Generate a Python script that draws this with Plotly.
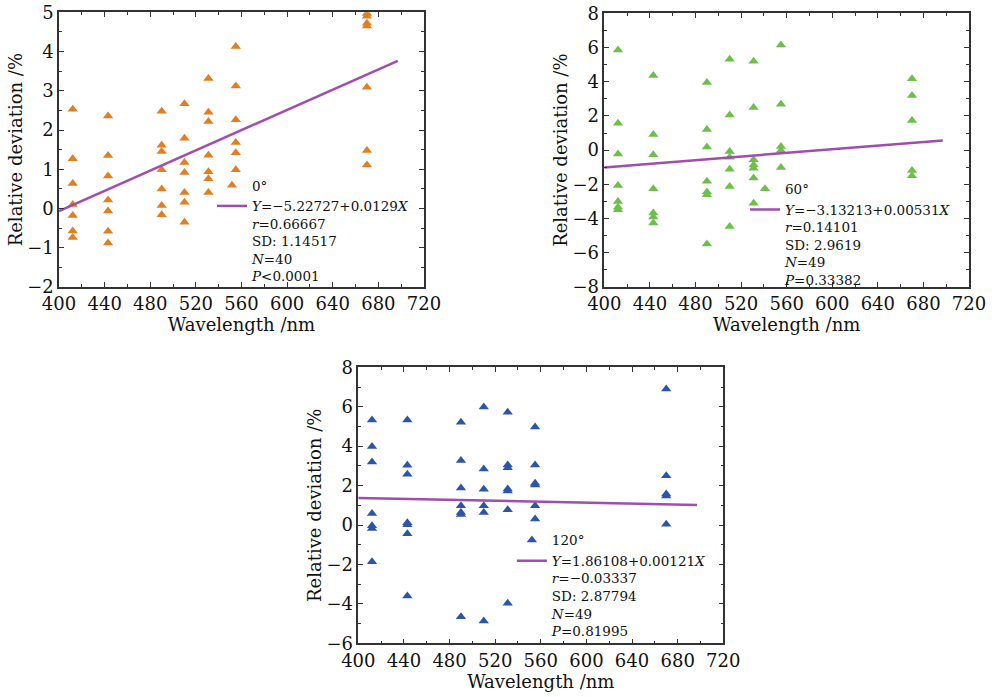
import plotly.graph_objects as go

# Wavelength bands (nm)
WAVELENGTHS = [412, 443, 490, 510, 531, 555, 670]

# Relative deviation (%) per band, one list per band, for each viewing angle
DEV_0 = [
    [2.53, 1.27, 0.64, 0.10, -0.18, -0.57, -0.74],
    [2.36, 1.35, 0.83, 0.22, -0.06, -0.58, -0.88],
    [2.48, 1.61, 1.45, 0.99, 0.50, 0.08, -0.16],
    [2.67, 1.79, 1.17, 0.92, 0.41, 0.16, -0.35],
    [3.31, 2.45, 2.22, 1.36, 0.94, 0.76, 0.41],
    [4.13, 3.12, 2.26, 1.68, 1.42, 0.99],
    [4.97, 4.90, 4.72, 4.65, 3.09, 1.48, 1.11],
]
DEV_60 = [
    [5.86, 1.58, -0.23, -2.06, -3.00, -3.33, -3.48],
    [4.36, 0.91, -0.27, -2.26, -3.68, -3.91, -4.26],
    [3.95, 1.21, 0.19, -1.81, -2.45, -2.61, -5.49],
    [5.31, 2.06, -0.08, -0.41, -1.11, -2.12, -4.46],
    [5.20, 2.49, -0.56, -0.86, -1.05, -1.63, -3.10],
    [6.15, 2.69, 0.21, -0.02, -1.01],
    [4.18, 3.19, 1.73, -1.19, -1.50],
]
DEV_120 = [
    [5.33, 3.99, 3.20, 0.58, -0.03, -0.18, -1.86],
    [5.33, 3.03, 2.57, 0.12, 0.02, -0.44, -3.60],
    [5.21, 3.28, 1.88, 0.98, 0.64, 0.53, -4.65],
    [5.99, 2.84, 1.81, 0.98, 0.64, -4.87],
    [5.72, 3.05, 2.91, 1.83, 1.73, 0.78, -3.97],
    [4.97, 3.05, 2.12, 2.03, 0.98, 0.31],
    [6.90, 2.50, 1.57, 1.47, 0.04],
]

# Linear fits: intercept, slope (the 120° slope sign follows its negative r)
FIT_0 = (-5.22727, 0.0129)
FIT_60 = (-3.13213, 0.00531)
FIT_120 = (1.86108, -0.00121)
FIT_RANGE = [400, 697]

LABEL_0 = ("<i>Y</i>=−5.22727+0.0129<i>X</i><br><i>r</i>=0.66667<br>"
           "SD: 1.14517<br><i>N</i>=40<br><i>P</i><0.0001")
LABEL_60 = ("<i>Y</i>=−3.13213+0.00531<i>X</i><br><i>r</i>=0.14101<br>"
            "SD: 2.9619<br><i>N</i>=49<br><i>P</i>=0.33382")
LABEL_120 = ("<i>Y</i>=1.86108+0.00121<i>X</i><br><i>r</i>=−0.03337<br>"
             "SD: 2.87794<br><i>N</i>=49<br><i>P</i>=0.81995")

FONT = "DejaVu Serif"
TEXT_COLOR = "#111111"
LINE_COLOR = "#A04DAF"

panels = [
    dict(dev=DEV_0, fit=FIT_0, name="0°", label=LABEL_0, color="#E07E22",
         xdom=[0.0595, 0.4274], ydom=[0.5882, 0.9824], yrange=[-2, 5],
         dtick=1, legend_xy=(0.2137, 0.756)),
    dict(dev=DEV_60, fit=FIT_60, name="60°", label=LABEL_60, color="#6CC04A",
         xdom=[0.6092, 0.9768], ydom=[0.5882, 0.9809], yrange=[-8, 8],
         dtick=2, legend_xy=(0.751, 0.751)),
    dict(dev=DEV_120, fit=FIT_120, name="120°", label=LABEL_120, color="#2A55AA",
         xdom=[0.3612, 0.7291], ydom=[0.0770, 0.4730], yrange=[-6, 8],
         dtick=2, legend_xy=(0.516, 0.247)),
]

fig = go.Figure()
layout = {}

for i, p in enumerate(panels, start=1):
    sfx = "" if i == 1 else str(i)
    lg = "legend" if i == 1 else f"legend{i}"
    xs, ys = [], []
    for wl, vals in zip(WAVELENGTHS, p["dev"]):
        xs += [wl] * len(vals)
        ys += vals
    fig.add_trace(go.Scatter(
        x=xs, y=ys, mode="markers", name=p["name"],
        marker=dict(symbol="triangle-up", size=9, color=p["color"]),
        xaxis=f"x{sfx}", yaxis=f"y{sfx}", legend=lg,
    ))
    a, b = p["fit"]
    fig.add_trace(go.Scatter(
        x=FIT_RANGE, y=[a + b * v for v in FIT_RANGE], mode="lines",
        name=p["label"], line=dict(color=LINE_COLOR, width=2.5),
        xaxis=f"x{sfx}", yaxis=f"y{sfx}", legend=lg,
    ))

    axis_common = dict(
        showline=True, linecolor="#333333", linewidth=1.5, mirror="ticks",
        ticks="inside", ticklen=5, tickwidth=1.2, tickcolor="#333333",
        showgrid=False, zeroline=False, automargin=False,
        tickfont=dict(family=FONT, size=18, color=TEXT_COLOR),
    )
    layout[f"xaxis{sfx}"] = dict(
        axis_common, domain=p["xdom"], range=[400, 720], dtick=40,
        tick0=400, anchor=f"y{sfx}",
        minor=dict(dtick=20, ticks="inside", ticklen=3, tickcolor="#333333"),
        title=dict(text="Wavelength /nm", standoff=2,
                   font=dict(family=FONT, size=18, color=TEXT_COLOR)),
    )
    layout[f"yaxis{sfx}"] = dict(
        axis_common, domain=p["ydom"], range=p["yrange"], dtick=p["dtick"],
        anchor=f"x{sfx}",
        minor=dict(dtick=p["dtick"] / 2, ticks="inside", ticklen=3,
                   tickcolor="#333333"),
        title=dict(text="Relative deviation /%", standoff=0,
                   font=dict(family=FONT, size=18, color=TEXT_COLOR)),
    )
    lx, ly = p["legend_xy"]
    layout[lg] = dict(
        x=lx, y=ly, xanchor="left", yanchor="top", bgcolor="rgba(0,0,0,0)",
        font=dict(family=FONT, size=13.5, color=TEXT_COLOR), valign="top",
        tracegroupgap=0, itemwidth=30,
    )

fig.update_layout(
    width=992, height=697,
    margin=dict(l=0, r=0, t=0, b=0, autoexpand=False),
    paper_bgcolor="white", plot_bgcolor="white", showlegend=True,
    **layout,
)

fig.write_html("out.html")
